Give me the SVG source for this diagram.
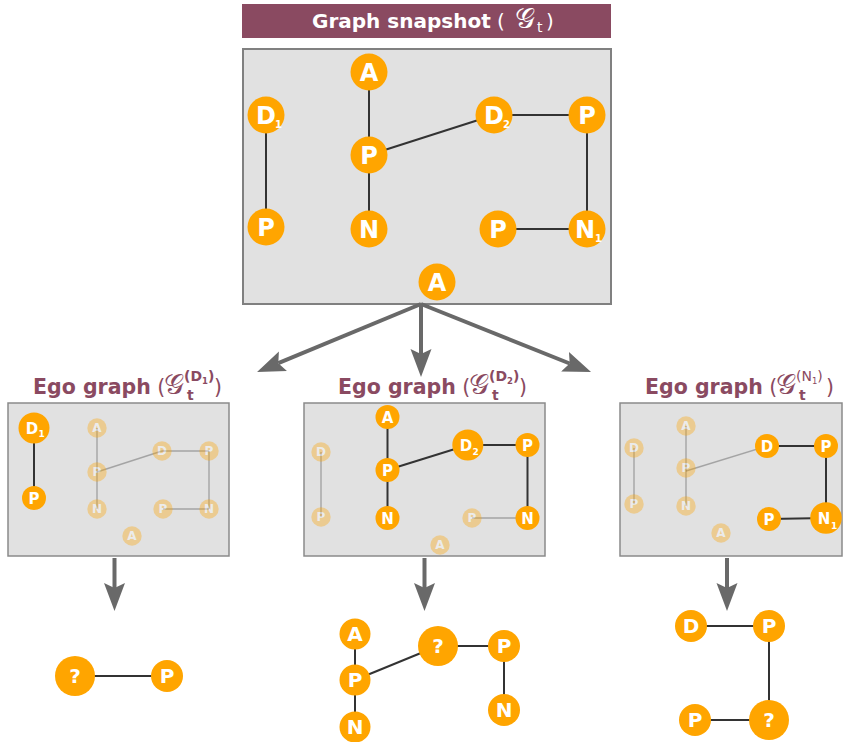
<svg xmlns="http://www.w3.org/2000/svg" width="845" height="742" viewBox="0 0 845 742">
<defs>
<style>
.bar{fill:#8a4a61}
.ttl{font-family:"DejaVu Sans","Noto Sans",sans-serif;font-weight:bold;font-size:20px;fill:#fff}
.ego{font-family:"DejaVu Sans","Noto Sans",sans-serif;font-weight:bold;font-size:20.5px;fill:#8a4a61}
.math{font-weight:normal}
.cal{font-size:28px;font-weight:normal}
.subt{font-size:14px}
.sup{font-size:14px}
.tiny{font-size:8.5px}
.box{fill:#e1e1e1;stroke:#808080;stroke-width:2}
.pbox{fill:#e1e1e1;stroke:#8a8a8a;stroke-width:1.5}
.n circle{fill:#ffa500}
.n text{font-family:"DejaVu Sans","Noto Sans",sans-serif;font-weight:bold;fill:#fff;text-anchor:middle}
.n text.sub{text-anchor:start}
.big text{font-size:24px}
.mid text{font-size:15px}
.sm text{font-size:12px}
.bot text{font-size:20px}
.n text.sub{font-size:10px}
.mid text.sub{font-size:9px}
.f{opacity:0.35}
.e{stroke:#333;stroke-width:2;fill:none}
.ef{stroke:#333;stroke-width:1.4;opacity:0.35;fill:none}
.arr{stroke:#696969;stroke-width:4;fill:none;marker-end:url(#ah)}
</style>
<marker id="ah" markerUnits="userSpaceOnUse" markerWidth="30" markerHeight="24" viewBox="0 -12 30 24" refX="5" refY="0" orient="auto">
<path d="M0,-10.5 L28,0 L0,10.5 L5,0 Z" fill="#696969"/>
</marker>
</defs>

<!-- Title -->
<g id="title">
<rect class="bar" x="242" y="4" width="369" height="34"/>
<text class="ttl" x="312" y="28">Graph snapshot<tspan class="math"> (</tspan></text>
<text class="ttl cal" x="515" y="28">𝒢</text>
<text class="ttl math subt" x="537" y="32">t</text>
<text class="ttl math" x="546" y="28">)</text>
</g>

<!-- Panels -->
<rect class="box" x="243" y="49" width="368" height="255"/>
<rect class="pbox" x="8" y="403" width="221" height="153"/>
<rect class="pbox" x="304" y="403" width="241" height="153"/>
<rect class="pbox" x="620" y="403" width="222" height="153"/>

<!-- Ego titles -->
<g id="ego-title-d1" transform="translate(-305,0)">
<text class="ego" x="338" y="394">Ego graph<tspan class="math"> (</tspan></text>
<text class="ego cal" x="469" y="394">𝒢</text>
<text class="ego subt" x="492" y="400">t</text>
<text class="ego sup" x="489" y="381">(D<tspan class="tiny" dy="3">1</tspan><tspan dy="-3">)</tspan></text>
<text class="ego math" x="519" y="394">)</text>
</g>
<g id="ego-title-d2">
<text class="ego" x="338" y="394">Ego graph<tspan class="math"> (</tspan></text>
<text class="ego cal" x="469" y="394">𝒢</text>
<text class="ego subt" x="492" y="400">t</text>
<text class="ego sup" x="489" y="381">(D<tspan class="tiny" dy="3">2</tspan><tspan dy="-3">)</tspan></text>
<text class="ego math" x="519" y="394">)</text>
</g>
<g id="ego-title-n1" transform="translate(307,0)">
<text class="ego" x="338" y="394">Ego graph<tspan class="math"> (</tspan></text>
<text class="ego cal" x="469" y="394">𝒢</text>
<text class="ego subt" x="492" y="400">t</text>
<text class="ego math sup" x="489" y="381">(N<tspan class="tiny" dy="3">1</tspan><tspan dy="-3">)</tspan></text>
<text class="ego math" x="519" y="394">)</text>
</g>

<!-- Connectors -->
<g id="connectors">
<line class="e" x1="266" y1="115" x2="266" y2="227"/>
<line class="e" x1="369" y1="72" x2="369" y2="155"/>
<line class="e" x1="369" y1="155" x2="369" y2="229"/>
<line class="e" x1="369" y1="155" x2="494" y2="115"/>
<line class="e" x1="494" y1="115" x2="587" y2="115"/>
<line class="e" x1="587" y1="115" x2="587" y2="229"/>
<line class="e" x1="498" y1="229" x2="587" y2="229"/>
<line class="arr" x1="421" y1="304" x2="278.3" y2="363.2"/>
<line class="arr" x1="421" y1="304" x2="421" y2="354"/>
<line class="arr" x1="421" y1="304" x2="569.7" y2="363.5"/>
<line class="e" x1="34" y1="428" x2="34" y2="498"/>
<line class="ef" x1="97" y1="428" x2="97" y2="509"/>
<line class="ef" x1="97" y1="472" x2="162" y2="451"/>
<line class="ef" x1="162" y1="451" x2="209" y2="451"/>
<line class="ef" x1="209" y1="451" x2="209" y2="509"/>
<line class="ef" x1="163" y1="509" x2="209" y2="509"/>
<line class="ef" x1="321" y1="452" x2="321" y2="517"/>
<line class="ef" x1="472" y1="518" x2="527.5" y2="518"/>
<line class="e" x1="387.5" y1="417" x2="387.5" y2="518"/>
<line class="e" x1="387.5" y1="470" x2="467.8" y2="445"/>
<line class="e" x1="467.8" y1="445" x2="527.5" y2="445"/>
<line class="e" x1="527.5" y1="445" x2="527.5" y2="518"/>
<line class="ef" x1="634" y1="448" x2="634" y2="504"/>
<line class="ef" x1="686" y1="426" x2="686" y2="506"/>
<line class="ef" x1="686" y1="471" x2="767" y2="446"/>
<line class="e" x1="767" y1="446" x2="826" y2="446"/>
<line class="e" x1="826" y1="446" x2="826" y2="518"/>
<line class="e" x1="769" y1="519" x2="826" y2="518"/>
<line class="arr" x1="114.5" y1="558" x2="114.5" y2="588"/>
<line class="arr" x1="424.5" y1="558" x2="424.5" y2="588"/>
<line class="arr" x1="727" y1="558" x2="727" y2="588"/>
<line class="e" x1="75" y1="676" x2="167" y2="676"/>
<line class="e" x1="355" y1="634" x2="355" y2="727"/>
<line class="e" x1="355" y1="680" x2="438" y2="646"/>
<line class="e" x1="438" y1="646" x2="504" y2="646"/>
<line class="e" x1="504" y1="646" x2="504" y2="710"/>
<line class="e" x1="691" y1="626" x2="769" y2="626"/>
<line class="e" x1="769" y1="626" x2="769" y2="720"/>
<line class="e" x1="695" y1="720" x2="769" y2="720"/>
</g>

<!-- Main graph nodes -->
<g id="m-a1" class="n big"><circle cx="369" cy="72" r="18.5"/><text x="369" y="80.7">A</text></g>
<g id="m-d1" class="n big"><circle cx="266" cy="115" r="18.5"/><text x="266" y="123.7">D</text><text class="sub" x="275" y="128">1</text></g>
<g id="m-p1" class="n big"><circle cx="369" cy="155" r="18.5"/><text x="369" y="163.7">P</text></g>
<g id="m-d2" class="n big"><circle cx="494" cy="115" r="18.5"/><text x="494" y="123.7">D</text><text class="sub" x="503" y="128">2</text></g>
<g id="m-p2" class="n big"><circle cx="587" cy="115" r="18.5"/><text x="587" y="123.7">P</text></g>
<g id="m-p3" class="n big"><circle cx="266" cy="227" r="18.5"/><text x="266" y="235.7">P</text></g>
<g id="m-n" class="n big"><circle cx="369" cy="229" r="18.5"/><text x="369" y="237.7">N</text></g>
<g id="m-p4" class="n big"><circle cx="498" cy="229" r="18.5"/><text x="498" y="237.7">P</text></g>
<g id="m-n1" class="n big"><circle cx="587" cy="229" r="18.5"/><text x="585" y="237.7">N</text><text class="sub" x="595" y="242">1</text></g>
<g id="m-a2" class="n big"><circle cx="437" cy="282" r="18.5"/><text x="437" y="290.7">A</text></g>

<!-- Panel 1 nodes -->
<g id="e1-d1" class="n mid"><circle cx="34" cy="428" r="15.5"/><text x="32" y="433.5">D</text><text class="sub" x="38.5" y="437">1</text></g>
<g id="e1-p" class="n mid"><circle cx="34" cy="498" r="12"/><text x="34" y="503.5">P</text></g>
<g id="e1-fa1" class="n sm f"><circle cx="97" cy="428" r="9.7"/><text x="97" y="432.4">A</text></g>
<g id="e1-fp1" class="n sm f"><circle cx="97" cy="472" r="9.7"/><text x="97" y="476.4">P</text></g>
<g id="e1-fn1" class="n sm f"><circle cx="97" cy="509" r="9.7"/><text x="97" y="513.4">N</text></g>
<g id="e1-fd" class="n sm f"><circle cx="162" cy="451" r="9.7"/><text x="162" y="455.4">D</text></g>
<g id="e1-fp2" class="n sm f"><circle cx="209" cy="451" r="9.7"/><text x="209" y="455.4">P</text></g>
<g id="e1-fp3" class="n sm f"><circle cx="163" cy="509" r="9.7"/><text x="163" y="513.4">P</text></g>
<g id="e1-fn2" class="n sm f"><circle cx="209" cy="509" r="9.7"/><text x="209" y="513.4">N</text></g>
<g id="e1-fa2" class="n sm f"><circle cx="132" cy="536" r="9.7"/><text x="132" y="540.4">A</text></g>

<!-- Panel 2 nodes -->
<g id="e2-fd" class="n sm f"><circle cx="321" cy="452" r="9.7"/><text x="321" y="456.4">D</text></g>
<g id="e2-fp1" class="n sm f"><circle cx="321" cy="517" r="9.7"/><text x="321" y="521.4">P</text></g>
<g id="e2-fp2" class="n sm f"><circle cx="472" cy="518" r="9.7"/><text x="472" y="522.4">P</text></g>
<g id="e2-fa" class="n sm f"><circle cx="440" cy="545" r="9.7"/><text x="440" y="549.4">A</text></g>
<g id="e2-a" class="n mid"><circle cx="387.5" cy="417" r="12"/><text x="387.5" y="422.5">A</text></g>
<g id="e2-p" class="n mid"><circle cx="387.5" cy="470" r="12"/><text x="387.5" y="475.5">P</text></g>
<g id="e2-n" class="n mid"><circle cx="387.5" cy="518" r="12"/><text x="387.5" y="523.5">N</text></g>
<g id="e2-d2" class="n mid"><circle cx="467.8" cy="445" r="15.5"/><text x="466" y="450.5">D</text><text class="sub" x="472.5" y="455">2</text></g>
<g id="e2-p2" class="n mid"><circle cx="527.5" cy="445" r="12"/><text x="527.5" y="450.5">P</text></g>
<g id="e2-n2" class="n mid"><circle cx="527.5" cy="518" r="12"/><text x="527.5" y="523.5">N</text></g>

<!-- Panel 3 nodes -->
<g id="e3-fd" class="n sm f"><circle cx="634" cy="448" r="9.7"/><text x="634" y="452.4">D</text></g>
<g id="e3-fp1" class="n sm f"><circle cx="634" cy="504" r="9.7"/><text x="634" y="508.4">P</text></g>
<g id="e3-fa1" class="n sm f"><circle cx="686" cy="426" r="9.7"/><text x="686" y="430.4">A</text></g>
<g id="e3-fp2" class="n sm f"><circle cx="686" cy="468" r="9.7"/><text x="686" y="472.4">P</text></g>
<g id="e3-fn" class="n sm f"><circle cx="686" cy="506" r="9.7"/><text x="686" y="510.4">N</text></g>
<g id="e3-fa2" class="n sm f"><circle cx="721" cy="533" r="9.7"/><text x="721" y="537.4">A</text></g>
<g id="e3-d" class="n mid"><circle cx="767" cy="446" r="12"/><text x="767" y="451.5">D</text></g>
<g id="e3-p" class="n mid"><circle cx="826" cy="446" r="12"/><text x="826" y="451.5">P</text></g>
<g id="e3-p2" class="n mid"><circle cx="769" cy="519" r="12"/><text x="769" y="524.5">P</text></g>
<g id="e3-n1" class="n mid"><circle cx="826" cy="518" r="15.8"/><text x="824" y="523.5">N</text><text class="sub" x="831" y="529">1</text></g>

<!-- Bottom graphs -->
<g id="b1-q" class="n bot"><circle cx="75" cy="676" r="20"/><text x="75" y="683.3">?</text></g>
<g id="b1-p" class="n bot"><circle cx="167" cy="676" r="16"/><text x="167" y="683.3">P</text></g>
<g id="b2-a" class="n bot"><circle cx="355" cy="634" r="15.5"/><text x="355" y="641.3">A</text></g>
<g id="b2-p" class="n bot"><circle cx="355" cy="680" r="15.5"/><text x="355" y="687.3">P</text></g>
<g id="b2-n" class="n bot"><circle cx="355" cy="727" r="15.5"/><text x="355" y="734.3">N</text></g>
<g id="b2-q" class="n bot"><circle cx="438" cy="646" r="20"/><text x="438" y="653.3">?</text></g>
<g id="b2-p2" class="n bot"><circle cx="504" cy="646" r="16"/><text x="504" y="653.3">P</text></g>
<g id="b2-n2" class="n bot"><circle cx="504" cy="710" r="16"/><text x="504" y="717.3">N</text></g>
<g id="b3-d" class="n bot"><circle cx="691" cy="626" r="16"/><text x="691" y="633.3">D</text></g>
<g id="b3-p" class="n bot"><circle cx="769" cy="626" r="16"/><text x="769" y="633.3">P</text></g>
<g id="b3-p2" class="n bot"><circle cx="695" cy="720" r="16"/><text x="695" y="727.3">P</text></g>
<g id="b3-q" class="n bot"><circle cx="769" cy="720" r="20"/><text x="769" y="727.3">?</text></g>
</svg>
